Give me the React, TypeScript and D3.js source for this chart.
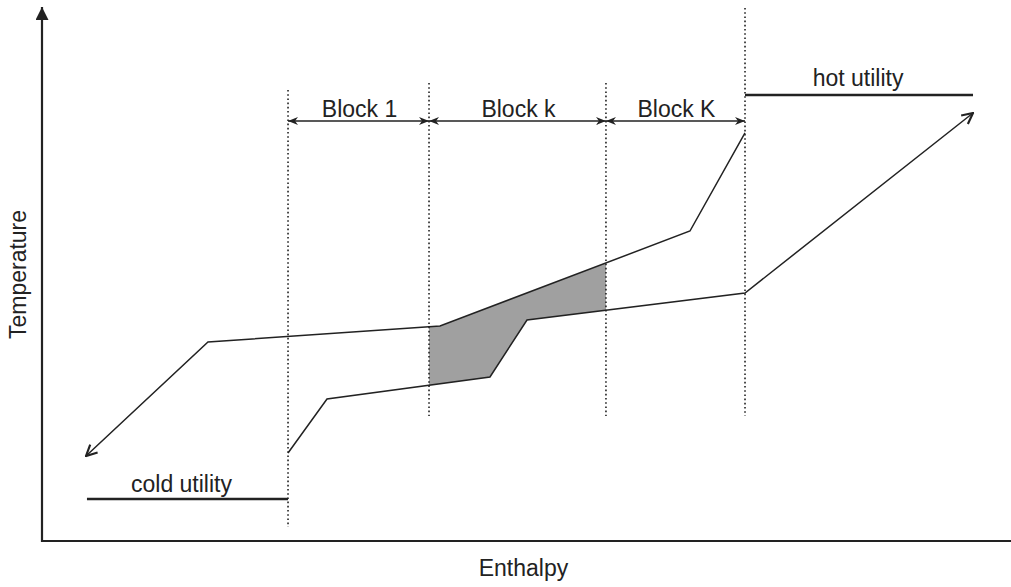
import React from "react";
import * as d3 from "d3";

// Data (arbitrary units: enthalpy 0-100, temperature 0-100)
const hotCurveH = [4.54, 17.13, 41.07, 66.87, 72.55];
const hotCurveT = [15.95, 37.34, 40.34, 58.16, 76.55];
const coldCurveH = [25.39, 29.41, 46.23, 50.05, 72.55, 96.08];
const coldCurveT = [16.51, 26.64, 30.77, 41.46, 46.53, 80.3];
const blockBounds = [25.39, 39.94, 58.2, 72.55];
const boundTop = [84.62, 85.93, 85.93, 100];
const boundBottom = [2.63, 23.45, 23.45, 23.45];
const blockLabels = ["Block 1", "Block k", "Block K"];
const blockArrowT = 78.8;
const hotUtilityH = [72.55, 96.08];
const hotUtilityT = 83.68;
const coldUtilityH = [4.64, 25.39];
const coldUtilityT = 7.88;
const shadeBlock = 1; // index of the shaded block (Block k)

const W = 1011;
const H = 587;

const x = d3.scaleLinear().domain([0, 100]).range([42, 1011]);
const y = d3.scaleLinear().domain([0, 100]).range([541, 8]);

type P = [number, number];
const hotPts: P[] = hotCurveH.map((h, i) => [h, hotCurveT[i]]);
const coldPts: P[] = coldCurveH.map((h, i) => [h, coldCurveT[i]]);

function interp(pts: P[], h: number): number {
  for (let i = 0; i < pts.length - 1; i++) {
    const [h0, t0] = pts[i];
    const [h1, t1] = pts[i + 1];
    if (h >= h0 && h <= h1) return t0 + ((h - h0) / (h1 - h0)) * (t1 - t0);
  }
  return pts[pts.length - 1][1];
}

function shadePolygon(a: number, b: number): P[] {
  const top: P[] = [[a, interp(hotPts, a)]];
  hotPts.forEach((p) => {
    if (p[0] > a && p[0] < b) top.push(p);
  });
  top.push([b, interp(hotPts, b)]);
  const bottom: P[] = [[b, interp(coldPts, b)]];
  [...coldPts].reverse().forEach((p) => {
    if (p[0] > a && p[0] < b) bottom.push(p);
  });
  bottom.push([a, interp(coldPts, a)]);
  return [...top, ...bottom];
}

const line = d3
  .line<P>()
  .x((d) => x(d[0]))
  .y((d) => y(d[1]));

const FONT = "'Liberation Sans', Arial, sans-serif";
const INK = "#222";
const FS = 23;

export default function App() {
  const shade = shadePolygon(blockBounds[shadeBlock], blockBounds[shadeBlock + 1]);
  const hotReversed = [...hotPts].reverse();
  return (
    <svg
      width={W}
      height={H}
      style={{ position: "absolute", left: 0, top: 0, background: "#fff" }}
    >
      <defs>
        <marker
          id="openArrow"
          viewBox="0 0 12 12"
          refX="11"
          refY="6"
          markerWidth="13"
          markerHeight="13"
          markerUnits="userSpaceOnUse"
          orient="auto"
        >
          <path d="M1,1 L11,6 L1,11" fill="none" stroke={INK} strokeWidth="2" />
        </marker>
        <marker
          id="axisArrow"
          viewBox="0 0 12 12"
          refX="12"
          refY="6"
          markerWidth="13"
          markerHeight="13"
          markerUnits="userSpaceOnUse"
          orient="auto"
        >
          <path d="M0,0 L12,6 L0,12 Z" fill={INK} />
        </marker>
        <marker
          id="blockArrow"
          viewBox="0 0 10 8"
          refX="10"
          refY="4"
          markerWidth="10"
          markerHeight="9"
          markerUnits="userSpaceOnUse"
          orient="auto-start-reverse"
        >
          <path d="M0,0 L10,4 L0,8 L3,4 Z" fill={INK} />
        </marker>
      </defs>

      {/* shaded block */}
      <path d={line(shade) + "Z"} fill="#a0a0a0" stroke="none" />

      {/* dotted block boundaries */}
      {blockBounds.map((b, i) => (
        <line
          key={"b" + i}
          x1={x(b)}
          x2={x(b)}
          y1={y(boundTop[i])}
          y2={y(boundBottom[i])}
          stroke={INK}
          strokeWidth={1.6}
          strokeDasharray="1.6,2.6"
        />
      ))}

      {/* block arrows & labels */}
      {blockLabels.map((lab, i) => {
        const a = blockBounds[i];
        const b = blockBounds[i + 1];
        return (
          <g key={"blk" + i}>
            <line
              x1={x(a)}
              x2={x(b)}
              y1={y(blockArrowT)}
              y2={y(blockArrowT)}
              stroke={INK}
              strokeWidth={1.7}
              markerStart="url(#blockArrow)"
              markerEnd="url(#blockArrow)"
            />
            <text
              x={(x(a) + x(b)) / 2 + 1}
              y={y(blockArrowT) - 4}
              textAnchor="middle"
              fontFamily={FONT}
              fontSize={FS}
              fill={INK}
            >
              {lab}
            </text>
          </g>
        );
      })}

      {/* composite curves */}
      <path
        d={line(hotReversed) ?? ""}
        fill="none"
        stroke={INK}
        strokeWidth={1.5}
        markerEnd="url(#openArrow)"
      />
      <path
        d={line(coldPts) ?? ""}
        fill="none"
        stroke={INK}
        strokeWidth={1.5}
        markerEnd="url(#openArrow)"
      />

      {/* utilities */}
      <line
        x1={x(hotUtilityH[0])}
        x2={x(hotUtilityH[1])}
        y1={y(hotUtilityT)}
        y2={y(hotUtilityT)}
        stroke={INK}
        strokeWidth={2.4}
      />
      <text
        x={(x(hotUtilityH[0]) + x(hotUtilityH[1])) / 2 - 1}
        y={y(hotUtilityT) - 9}
        textAnchor="middle"
        fontFamily={FONT}
        fontSize={FS}
        fill={INK}
      >
        hot utility
      </text>
      <line
        x1={x(coldUtilityH[0])}
        x2={x(coldUtilityH[1])}
        y1={y(coldUtilityT)}
        y2={y(coldUtilityT)}
        stroke={INK}
        strokeWidth={2.4}
      />
      <text
        x={(x(coldUtilityH[0]) + x(coldUtilityH[1])) / 2 - 6}
        y={y(coldUtilityT) - 7}
        textAnchor="middle"
        fontFamily={FONT}
        fontSize={FS}
        fill={INK}
      >
        cold utility
      </text>

      {/* axes */}
      <line
        x1={x(0)}
        x2={x(0)}
        y1={y(0) + 1}
        y2={y(100) - 1}
        stroke={INK}
        strokeWidth={2.2}
        markerEnd="url(#axisArrow)"
      />
      <line x1={x(0) - 1} x2={x(100) + 2} y1={y(0)} y2={y(0)} stroke={INK} strokeWidth={2.2} />
      <text
        x={x(50) - 3}
        y={H - 11}
        textAnchor="middle"
        fontFamily={FONT}
        fontSize={FS}
        fill={INK}
      >
        Enthalpy
      </text>
      <text
        transform={`translate(26, ${(y(0) + y(100)) / 2}) rotate(-90)`}
        textAnchor="middle"
        fontFamily={FONT}
        fontSize={FS}
        fill={INK}
      >
        Temperature
      </text>
    </svg>
  );
}
